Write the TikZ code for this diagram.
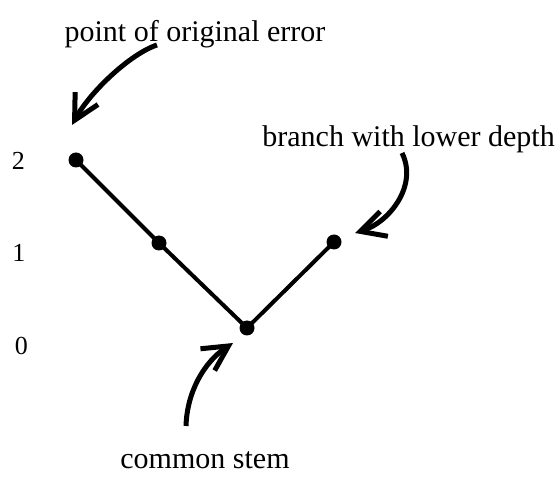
\documentclass[tikz,border=0pt]{standalone}
\usepackage{fontspec}
\setmainfont{Liberation Serif}
\usetikzlibrary{arrows.meta}
\begin{document}
\begin{tikzpicture}[x=1pt,y=-1pt,
  dot/.style={circle,fill,inner sep=0pt,minimum size=15pt},
  edge/.style={line width=4pt},
  pointer/.style={line width=5pt,-{Straight Barb[length=25pt,width=26pt,sharp]}},
  lbl/.style={font=\fontsize{30}{36}\selectfont,inner sep=0pt},
  num/.style={font=\fontsize{26}{31}\selectfont,inner sep=0pt}]
\useasboundingbox (0,0) rectangle (560,478);
\node[dot] (a) at (76,160) {};
\node[dot] (b) at (159,243) {};
\node[dot] (c) at (247,328) {};
\node[dot] (d) at (334,242) {};
\draw[edge] (a.center) -- (b.center) -- (c.center) -- (d.center);
\node[num,anchor=base] (l2) at (18.5,170) {2};
\node[num,anchor=base] (l1) at (19,262) {1};
\node[num,anchor=base] (l0) at (21.5,355) {0};
\node[lbl,anchor=base] (t1) at (195,42) {point of original error};
\node[lbl,anchor=base east] (t2) at (555,147) {branch with lower depth};
\node[lbl,anchor=base] (t3) at (205,468) {common stem};
\coordinate (p1s) at (157,45);
\coordinate (p1e) at (72,125);
\coordinate (p2s) at (402,153);
\coordinate (p2e) at (355,233);
\coordinate (p3s) at (186,426);
\coordinate (p3e) at (233,343);
\draw[pointer] (p1s) .. controls (130,54) and (90,92) .. (p1e);
\draw[pointer] (p2s) .. controls (418,185) and (390,222) .. (p2e);
\draw[pointer] (p3s) .. controls (187,392) and (204,362) .. (p3e);
\end{tikzpicture}
\end{document}
